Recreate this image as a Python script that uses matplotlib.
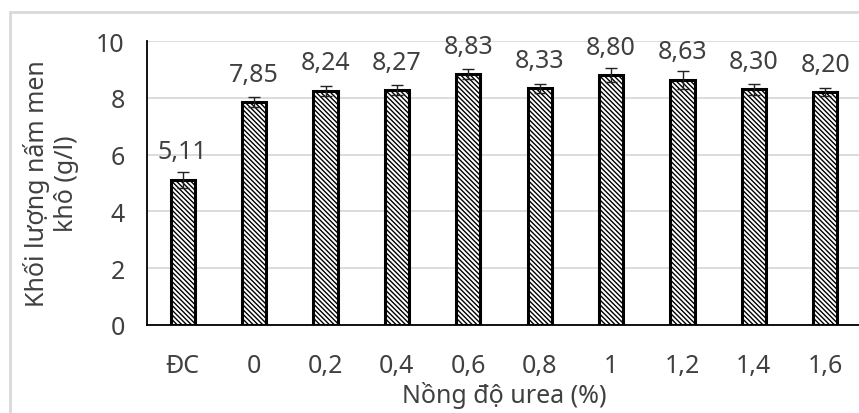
import numpy as np
import matplotlib.pyplot as plt
from matplotlib.patches import Rectangle

# du lieu doc tu hinh
nhom = ['ĐC', '0', '0,2', '0,4', '0,6', '0,8', '1', '1,2', '1,4', '1,6']
khoi_luong = [5.11, 7.85, 8.24, 8.27, 8.83, 8.33, 8.80, 8.63, 8.30, 8.20]
sai_so = [0.27, 0.17, 0.18, 0.18, 0.18, 0.15, 0.24, 0.33, 0.20, 0.15]

plt.rcParams['font.family'] = ['Noto Sans', 'DejaVu Sans']
plt.rcParams['hatch.linewidth'] = 1.0
mau_chu = '#404040'
co_chu = 18

fig = plt.figure(figsize=(8.59, 4.14), dpi=100)
ax = fig.add_axes([147/859, 88/414, 714/859, 284/414])

x = np.arange(len(nhom))
ax.bar(x, khoi_luong, width=0.34, color='white', edgecolor='black',
       linewidth=2.2, hatch='\\\\\\\\\\\\\\', zorder=3)
ax.errorbar(x, khoi_luong, yerr=sai_so, fmt='none', ecolor='#222222',
            elinewidth=1, capsize=4.5, capthick=1, zorder=4)

for xi, v in zip(x, khoi_luong):
    ax.annotate(f'{v:.2f}'.replace('.', ','), (xi, v), xytext=(0, 15.5),
                textcoords='offset points', ha='center', va='baseline',
                fontsize=co_chu, color=mau_chu)

ax.set_xlim(-0.5, len(nhom) - 0.5)
ax.set_ylim(0, 10)
ax.set_yticks([0, 2, 4, 6, 8, 10])
ax.set_xticks(x)
ax.set_xticklabels(nhom)
ax.tick_params(axis='both', length=0, labelsize=co_chu, labelcolor=mau_chu)
ax.tick_params(axis='y', pad=16)
ax.tick_params(axis='x', pad=20)

ax.grid(axis='y', color='#d9d9d9', linewidth=1.3, zorder=0)
ax.set_axisbelow(True)
for s in ['top', 'right']:
    ax.spines[s].set_visible(False)
ax.spines['left'].set_linewidth(1.3)
ax.spines['bottom'].set_linewidth(1.3)

ax.set_ylabel('Khối lượng nấm men\nkhô (g/l)', fontsize=co_chu, color=mau_chu,
              linespacing=1.25, labelpad=12)
ax.set_xlabel('Nồng độ urea (%)', fontsize=co_chu, color=mau_chu, labelpad=2)

# khung ngoai mau xam
fig.add_artist(Rectangle((10/859, -0.1), 1.2, 1.1 - 13/414,
                         transform=fig.transFigure, fill=False,
                         edgecolor='#d9d9d9', linewidth=2))

fig.savefig('out.png', dpi=100)
